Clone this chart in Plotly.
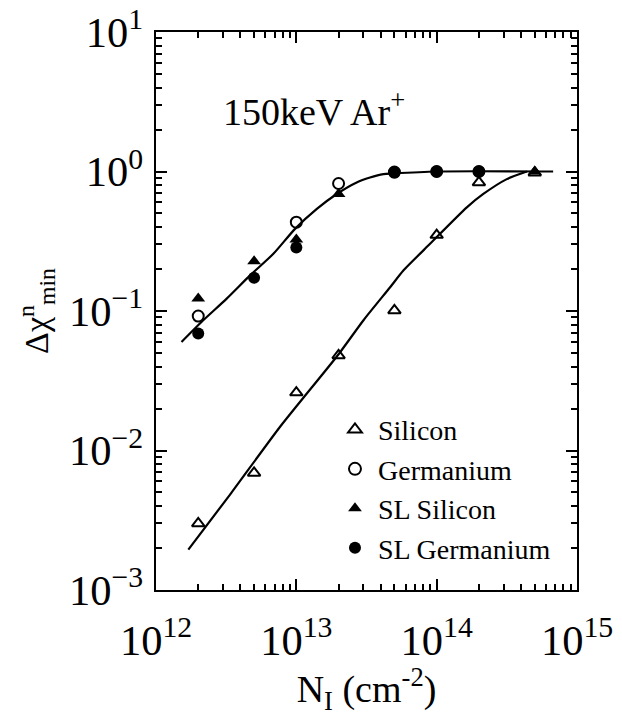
import plotly.graph_objects as go

# ---- data ----
si_dose = [2e12, 5e12, 1e13, 2e13, 5e13, 1e14, 2e14, 5e14]
si_val = [0.0030, 0.0069, 0.026, 0.048, 0.101, 0.35, 0.835, 0.98]

ge_dose = [2e12, 1e13, 2e13, 5e13, 1e14, 2e14]
ge_val = [0.092, 0.433, 0.82, 0.99, 1.0, 1.0]

slsi_dose = [2e12, 5e12, 1e13, 2e13, 5e14]
slsi_val = [0.123, 0.227, 0.326, 0.69, 1.0]

slge_dose = [2e12, 5e12, 1e13, 5e13, 1e14, 2e14]
slge_val = [0.069, 0.173, 0.285, 0.985, 1.0, 1.0]

# fitted curves
fit_ge_x = [1.52e12, 2.17e12, 3.19e12, 4.68e12, 6.86e12, 9.79e12, 1.40e13,
            1.94e13, 2.69e13, 3.35e13, 4.17e13, 4.89e13, 1.0e14, 6.76e14]
fit_ge_y = [0.060, 0.0858, 0.1227, 0.180, 0.257, 0.388, 0.539,
            0.690, 0.835, 0.906, 0.958, 0.968, 1.0, 1.0]

fit_si_x = [1.70e12, 3.37e12, 7.66e12, 2.0e13, 3.01e13, 4.66e13, 5.79e13,
            8.97e13, 1.64e14, 2.15e14, 3.16e14, 4.39e14]
fit_si_y = [0.00195, 0.00483, 0.0148, 0.049, 0.0859, 0.148, 0.195,
            0.303, 0.553, 0.690, 0.882, 1.0]

# y tick labels that the log axis would otherwise print as "10" and "1"
y_label_alias = {"10": "10<sup>1</sup>", "1": "10<sup>0</sup>"}

label_text = "150keV Ar<sup>+</sup>"

FONT = "Liberation Serif, Times New Roman, serif"

fig = go.Figure()

fig.add_trace(go.Scatter(x=fit_ge_x, y=fit_ge_y, mode="lines",
                         line=dict(color="black", width=2.2, shape="spline", smoothing=0.7),
                         showlegend=False, hoverinfo="skip"))
fig.add_trace(go.Scatter(x=fit_si_x, y=fit_si_y, mode="lines",
                         line=dict(color="black", width=2.2, shape="spline", smoothing=0.6),
                         showlegend=False, hoverinfo="skip"))

fig.add_trace(go.Scatter(x=si_dose, y=si_val, mode="markers", name="Silicon",
                         marker=dict(symbol="triangle-up-open", size=11, color="black",
                                     line=dict(width=2, color="black"))))
fig.add_trace(go.Scatter(x=ge_dose, y=ge_val, mode="markers", name="Germanium",
                         marker=dict(symbol="circle-open", size=11, color="black",
                                     line=dict(width=2, color="black"))))
fig.add_trace(go.Scatter(x=slsi_dose, y=slsi_val, mode="markers", name="SL Silicon",
                         marker=dict(symbol="triangle-up", size=12, color="black")))
fig.add_trace(go.Scatter(x=slge_dose, y=slge_val, mode="markers", name="SL Germanium",
                         marker=dict(symbol="circle", size=12, color="black")))

axis_common = dict(
    type="log", showline=True, linecolor="black", linewidth=2, mirror="allticks",
    ticks="inside", ticklen=11, tickwidth=2, tickcolor="black",
    dtick=1, exponentformat="power", showgrid=False, zeroline=False,
    automargin=False,
    tickfont=dict(family=FONT, size=34, color="black"),
    minor=dict(ticks="inside", ticklen=6, tickwidth=1.5, tickcolor="black",
               dtick="D1", showgrid=False),
)

fig.update_xaxes(range=[12, 15], **axis_common,
                 ticklabelstandoff=14,
                 title=dict(text="N<sub>I</sub> (cm<sup>-2</sup>)",
                            font=dict(family=FONT, size=38, color="black"),
                            standoff=12))
fig.update_yaxes(range=[-3, 1], **axis_common,
                 labelalias=y_label_alias,
                 ticklabelstandoff=4,
                 title=dict(text="Δχ<sup>n</sup><sub>min</sub>",
                            font=dict(family=FONT, size=34, color="black"),
                            standoff=10))

fig.add_annotation(x=0.155, y=0.862, xref="paper", yref="paper", xanchor="left",
                   yanchor="middle", text=label_text, showarrow=False,
                   font=dict(family=FONT, size=38, color="black"))

fig.update_layout(
    width=622, height=716,
    margin=dict(l=156, r=45, t=32, b=126),
    paper_bgcolor="white", plot_bgcolor="white",
    legend=dict(x=0.418, y=0.332, xanchor="left", yanchor="top",
                font=dict(family=FONT, size=28, color="black"),
                bgcolor="rgba(0,0,0,0)", itemsizing="constant",
                tracegroupgap=0, itemwidth=36),
)

fig.write_html("out.html")
